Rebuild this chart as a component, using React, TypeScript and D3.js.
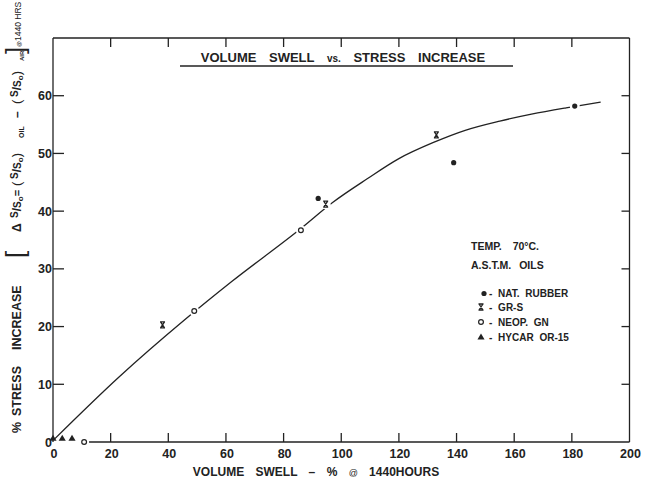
import * as d3 from 'd3';

// volume swell (%) vs stress increase
const natX = [92, 139, 181];
const natY = [42.2, 48.4, 58.2];
const grsX = [38, 94.6, 133];
const grsY = [20.3, 41.2, 53.2];
const neoX = [10.8, 49, 86];
const neoY = [0, 22.7, 36.7];
const hycX = [0, 3.2, 6.6];
const hycY = [0.3, 0.3, 0.3];

// where the pen line was broken around a marker
const natGap = [false, false, true];
const grsGap = [false, true, false];
const neoGap = [true, true, true];

// hand-drawn trend curve
const curveX = [0.5, 23, 46, 62, 86, 97, 109, 120, 132, 143, 155, 166, 178, 190];
const curveY = [0.5, 11.3, 21.3, 27.8, 37.0, 41.5, 45.6, 49.1, 51.9, 54.0, 55.6, 56.8, 57.9, 58.9];

const xTicks = [0, 20, 40, 60, 80, 100, 120, 140, 160, 180, 200];
const yTicks = [0, 10, 20, 30, 40, 50, 60];

const INK = '#222';
const FONT = '"Liberation Sans", Arial, sans-serif';

const xs = d3.scaleLinear().domain([0, 200]).range([53, 629.5]);
const ys = d3.scaleLinear().domain([0, 70]).range([442, 38]);

const xMarkPath = 'M-2.5,-3H2.5M-2.5,3H2.5M-2,-3L2,3M2,-3L-2,3';
const triPath = d3.symbol().type(d3.symbolTriangle).size(22)() as string;

const Dot = ({ x, y }: { x: number; y: number }) => <circle cx={x} cy={y} r={2.6} fill={INK} />;
const Cross = ({ x, y }: { x: number; y: number }) => (
  <path d={xMarkPath} transform={`translate(${x},${y})`} stroke={INK} strokeWidth={1.3} fill="none" />
);
const Ring = ({ x, y }: { x: number; y: number }) => (
  <circle cx={x} cy={y} r={2.4} fill="white" stroke={INK} strokeWidth={1.2} />
);
const Tri = ({ x, y }: { x: number; y: number }) => (
  <path d={triPath} transform={`translate(${x},${y - 1.5})`} fill={INK} />
);

// little "S/So" fraction used in the y label
const Ratio = ({ at }: { at: number }) => (
  <>
    <tspan x={at} fontSize={10} dy={-3}>S</tspan>
    <tspan fontSize={12} dy={3}>/</tspan>
    <tspan fontSize={10}>S</tspan>
    <tspan fontSize={8} dy={2}>o</tspan>
    <tspan fontSize={1} dy={-2}> </tspan>
  </>
);

export default function App() {
  const line = d3
    .line<number>()
    .x((_, i) => xs(curveX[i]))
    .y(d => ys(d))
    .curve(d3.curveMonotoneX);

  const halos = [
    ...natX.map((v, i) => [v, natY[i], natGap[i]]),
    ...grsX.map((v, i) => [v, grsY[i], grsGap[i]]),
    ...neoX.map((v, i) => [v, neoY[i], neoGap[i]]),
  ].filter(d => d[2]) as [number, number, boolean][];

  const x0 = xs(0), x1 = xs(200), y0 = ys(0), y1 = ys(70);

  return (
    <svg
      width={645}
      height={484}
      style={{ position: 'absolute', left: 0, top: 0, background: 'white' }}
      fontFamily={FONT}
      fill={INK}
    >
      {/* frame */}
      <g stroke={INK} strokeWidth={1.3} fill="none">
        <line x1={x0} y1={y1} x2={x1} y2={y1} />
        <line x1={x0} y1={y1} x2={x0} y2={y0} />
        <line x1={x1} y1={y1} x2={x1} y2={y0} />
        <line x1={xs(12.3)} y1={y0} x2={x1} y2={y0} />
        {xTicks.slice(1, -1).map(t => (
          <g key={'xt' + t}>
            <line x1={xs(t)} x2={xs(t)} y1={y0} y2={y0 - 9} />
            <line x1={xs(t)} x2={xs(t)} y1={y1} y2={y1 + 9} />
          </g>
        ))}
        {yTicks.slice(1).map(t => (
          <g key={'yt' + t}>
            <line x1={x0} x2={x0 + 11} y1={ys(t)} y2={ys(t)} />
            <line x1={x1} x2={x1 - 8} y1={ys(t)} y2={ys(t)} />
          </g>
        ))}
      </g>

      {/* tick labels */}
      <g fontSize={12.5} fontWeight="bold" textAnchor="middle">
        {xTicks.map(t => (
          <text key={'xl' + t} x={xs(t) + 1} y={y0 + 16}>{t}</text>
        ))}
      </g>
      <g fontSize={12.5} fontWeight="bold" textAnchor="end">
        {yTicks.map(t => (
          <text key={'yl' + t} x={x0 - 1} y={ys(t) + 4.5}>{t}</text>
        ))}
      </g>

      {/* trend curve */}
      <path d={line(curveY) as string} fill="none" stroke={INK} strokeWidth={1.3} />
      {halos.map(([a, b], i) => (
        <circle key={'h' + i} cx={xs(a)} cy={ys(b)} r={5} fill="white" />
      ))}

      {natX.map((v, i) => <Dot key={'n' + i} x={xs(v)} y={ys(natY[i])} />)}
      {grsX.map((v, i) => <Cross key={'g' + i} x={xs(v)} y={ys(grsY[i])} />)}
      {neoX.map((v, i) => <Ring key={'o' + i} x={xs(v)} y={ys(neoY[i])} />)}
      {hycX.map((v, i) => <Tri key={'t' + i} x={xs(v)} y={ys(hycY[i])} />)}

      {/* title */}
      <text x={343} y={62} fontSize={13} fontWeight="bold" textAnchor="middle" wordSpacing={9}>
        VOLUME SWELL <tspan fontSize={10}>vs.</tspan> STRESS INCREASE
      </text>
      <line x1={180} x2={513} y1={66} y2={66} stroke={INK} strokeWidth={1.4} />

      {/* x axis title */}
      <text x={316} y={476} fontSize={12} fontWeight="bold" textAnchor="middle" wordSpacing={8}>
        VOLUME SWELL – % <tspan fontSize={9} fontWeight="normal">@</tspan> 1440HOURS
      </text>

      {/* y axis title */}
      <text transform="translate(20.5,0) rotate(-90)" fontSize={12.5} fontWeight="bold">
        <tspan x={-433}>%</tspan>
        <tspan x={-416}>STRESS</tspan>
        <tspan x={-350}>INCREASE</tspan>
        <tspan x={-258} fontSize={26} fontWeight="normal" dy={3}>[</tspan>
        <tspan x={-232} fontSize={12} dy={-3}>Δ</tspan>
        <Ratio at={-218} />
        <tspan fontSize={11}>=</tspan>
        <tspan x={-186} fontSize={13} fontWeight="normal">(</tspan>
        <Ratio at={-179} />
        <tspan fontSize={13} fontWeight="normal">)</tspan>
        <tspan x={-138} fontSize={7} dy={3}>OIL</tspan>
        <tspan x={-118} fontSize={12} dy={-3}>–</tspan>
        <tspan x={-104} fontSize={13} fontWeight="normal">(</tspan>
        <Ratio at={-97} />
        <tspan fontSize={13} fontWeight="normal">)</tspan>
        <tspan x={-61} fontSize={6} dy={3}>AIR</tspan>
        <tspan x={-54} fontSize={26} fontWeight="normal" dy={0}>]</tspan>
        <tspan x={-47} fontSize={6} dy={-3}>@</tspan>
        <tspan x={-41} fontSize={8.5} fontWeight="normal">1440 HRS</tspan>
      </text>

      {/* notes and key */}
      <g fontWeight="bold">
        <text x={471} y={250} fontSize={10.5} wordSpacing={8}>TEMP. 70°C.</text>
        <text x={471} y={269} fontSize={10.5} wordSpacing={5}>A.S.T.M. OILS</text>
        <g fontSize={10} wordSpacing={3}>
          <Dot x={484} y={293.5} />
          <text x={489} y={297}>- NAT. RUBBER</text>
          <Cross x={481} y={307} />
          <text x={489} y={311}>- GR-S</text>
          <Ring x={481} y={322} />
          <text x={489} y={326}>- NEOP. GN</text>
          <Tri x={481} y={339} />
          <text x={489} y={341}>- HYCAR OR-15</text>
        </g>
      </g>
    </svg>
  );
}
